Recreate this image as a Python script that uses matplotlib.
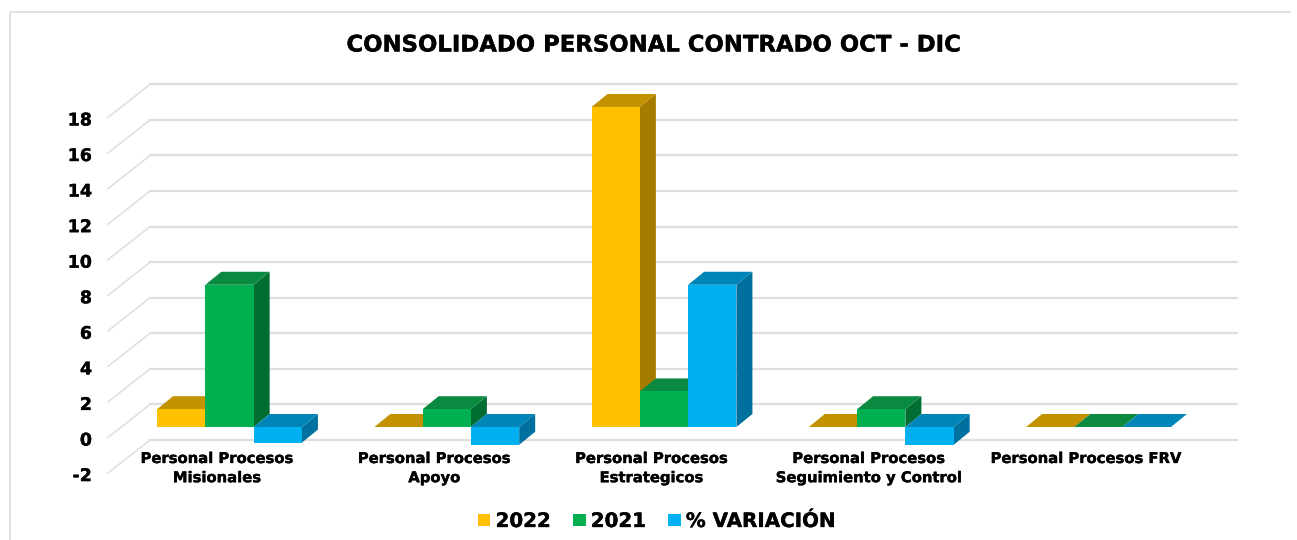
import matplotlib
matplotlib.use('Agg')
import matplotlib.pyplot as plt
import matplotlib.patheffects as pe
from matplotlib.patches import Patch

# Data
categories = ['Personal Procesos\nMisionales', 'Personal Procesos\nApoyo', 'Personal Procesos\nEstrategicos',
              'Personal Procesos\nSeguimiento y Control', 'Personal Procesos FRV']
series_names = ['2022', '2021', '% VARIACIÓN']
values_2022 = [1, 0, 18, 0, 0]
values_2021 = [8, 1, 2, 1, 0]
values_var = [-0.875, -1, 8, -1, 0]
y_ticks = [18, 16, 14, 12, 10, 8, 6, 4, 2, 0, -2]

W, H = 1297, 540
# one category = 217.25 px, one y unit = 17.78 px
X0, PX_X = 229.5, 217.25
Y0, PX_Y = 427.0, 17.78

BAR_W = 1 / 4.5
BAR_DX, BAR_DY = 16 / PX_X, 13 / PX_Y  # bar depth
WALL_FRONT_DY = -10.5 / PX_Y  # front end of the gridlines
WALL_BACK_DY = 22.6 / PX_Y  # back end of the gridlines

faces = [('#FFC000', '#C29200', '#A67C00'),
         ('#00B050', '#0A8A40', '#006E32'),
         ('#00B0F0', '#0085B8', '#00719E')]
GRID = '#DEDEDE'
heavy = [pe.withStroke(linewidth=0.25, foreground='black')]  # Verdana bold is a bit heavier

fig = plt.figure(figsize=(W / 100, H / 100), dpi=100)
ax = fig.add_axes([0, 0, 1, 1])
ax.set_xlim((0 - X0) / PX_X, (W - X0) / PX_X)
ax.set_ylim((Y0 - H) / PX_Y, Y0 / PX_Y)
ax.axis('off')

# outer frame of the chart area
ax.plot([10 / W, 10 / W, 1290 / W], [0, 1 - 11.7 / H, 1 - 11.7 / H], transform=ax.transAxes,
        color='#DDDDDD', lw=1.2, clip_on=False)

# gridlines: diagonal on the side wall, then along the back wall
left_front = (108 - X0) / PX_X
left_back = (150 - X0) / PX_X
right_back = (1237 - X0) / PX_X
for v in y_ticks:
    ax.plot([left_front, left_back], [v + WALL_FRONT_DY, v + WALL_BACK_DY], color=GRID, lw=1.1, zorder=1)
    ax.plot([left_back, right_back], [v + WALL_BACK_DY, v + WALL_BACK_DY], color=GRID, lw=1.6, zorder=1)
    ax.text((92 - X0) / PX_X, v + WALL_FRONT_DY - 3 / PX_Y, str(v), ha='right', va='center',
            fontsize=12.5, fontweight='bold', color='black', path_effects=heavy)


def draw_bar(left, value, colors):
    front, top, side = colors
    low, high = min(0, value), max(0, value)
    right = left + BAR_W
    z = 3
    # side face, top face, then the front
    ax.fill([right, right + BAR_DX, right + BAR_DX, right],
            [low, low + BAR_DY, high + BAR_DY, high], color=side, lw=0, zorder=z)
    ax.fill([left, right, right + BAR_DX, left + BAR_DX],
            [high, high, high + BAR_DY, high + BAR_DY], color=top, lw=0, zorder=z)
    if value != 0:
        ax.fill([left, right, right, left], [low, low, high, high], color=front, lw=0, zorder=z)


all_series = [values_2022, values_2021, values_var]
for i in range(len(categories)):
    for j, series in enumerate(all_series):
        draw_bar(i + (j - 1.5) * BAR_W, series[i], faces[j])

# category labels
for i, cat in enumerate(categories):
    ax.text(i - 12.5 / PX_X, (Y0 - 451) / PX_Y, cat, ha='center', va='top', fontsize=10.65,
            fontweight='bold', color='black', linespacing=1.35, path_effects=heavy)

ax.text(653.5 / W, 1 - 45 / H, 'CONSOLIDADO PERSONAL CONTRADO OCT - DIC', transform=ax.transAxes,
        ha='center', va='center', fontsize=16.4, fontweight='bold', color='black', path_effects=heavy)

handles = [Patch(facecolor=faces[k][0], edgecolor='none', label=series_names[k]) for k in range(3)]
leg = ax.legend(handles=handles, loc='center', bbox_to_anchor=(657 / W, 1 - 521.5 / H), ncol=3, frameon=False,
                prop={'weight': 'bold', 'size': 14.3}, handlelength=0.62, handleheight=0.62,
                handletextpad=0.26, columnspacing=1.12)
for t in leg.get_texts():
    t.set_path_effects(heavy)

fig.savefig('out.png', dpi=100, facecolor='white')
